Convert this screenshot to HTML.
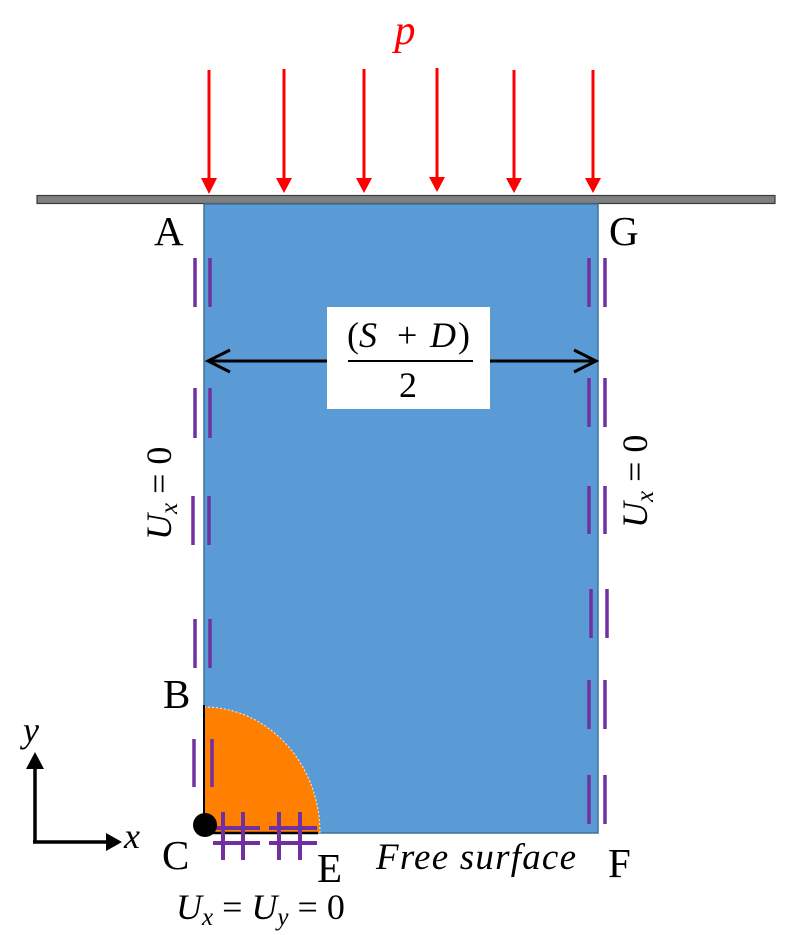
<!DOCTYPE html>
<html>
<head>
<meta charset="utf-8">
<style>
html,body{margin:0;padding:0;background:#fff;}
svg{display:block;}
text{font-family:"Liberation Serif",serif;}
</style>
</head>
<body>
<svg width="800" height="935" viewBox="0 0 800 935" xmlns="http://www.w3.org/2000/svg">
  <!-- p label -->
  <text x="405" y="44" font-size="42" font-style="italic" fill="#ff0000" text-anchor="middle">p</text>

  <!-- red arrows -->
  <g stroke="#ff0000" stroke-width="3">
    <line x1="209" y1="70" x2="209" y2="180"/>
    <line x1="284" y1="69" x2="284" y2="180"/>
    <line x1="364" y1="69" x2="364" y2="180"/>
    <line x1="437" y1="68" x2="437" y2="180"/>
    <line x1="514" y1="70" x2="514" y2="180"/>
    <line x1="593" y1="70" x2="593" y2="180"/>
  </g>
  <g fill="#ff0000">
    <polygon points="201,178 217,178 209,194"/>
    <polygon points="276,178 292,178 284,193"/>
    <polygon points="356,178 372,178 364,193"/>
    <polygon points="429,177 445,177 437,192"/>
    <polygon points="506,178 522,178 514,193"/>
    <polygon points="585,178 601,178 593,193"/>
  </g>

  <!-- top bar -->
  <rect x="37" y="195.5" width="738" height="8" fill="#808080" stroke="#3a3a3a" stroke-width="1.2"/>

  <!-- blue block -->
  <rect x="204" y="204" width="394" height="629" fill="#5b9bd5" stroke="#41719c" stroke-width="1.5"/>

  <!-- orange quarter -->
  <path d="M204,707 A116,126 0 0 1 320,833 L204,833 Z" fill="#ff8000"/>
  <path d="M204,707 A116,126 0 0 1 320,833" fill="none" stroke="#e8eef5" stroke-width="1" stroke-dasharray="2,2"/>

  <!-- black edges B-C and C-E -->
  <line x1="204" y1="705" x2="204" y2="830" stroke="#000" stroke-width="2"/>
  <line x1="204" y1="833" x2="318" y2="833" stroke="#000" stroke-width="2.5"/>

  <!-- labels -->
  <g font-size="41" fill="#000">
    <text x="154" y="245">A</text>
    <text x="609" y="245">G</text>
    <text x="163" y="708">B</text>
    <text x="162" y="869">C</text>
    <text x="317" y="882">E</text>
    <text x="608" y="877">F</text>
  </g>

  <!-- purple dashes left -->
  <g stroke="#7030a0" stroke-width="3.5" stroke-linecap="butt">
    <line x1="195" y1="258" x2="195" y2="307"/><line x1="210" y1="258" x2="210" y2="307"/>
    <line x1="195" y1="388" x2="195" y2="438"/><line x1="210" y1="388" x2="210" y2="438"/>
    <line x1="193" y1="496" x2="193" y2="545"/><line x1="209" y1="496" x2="209" y2="545"/>
    <line x1="195" y1="619" x2="195" y2="668"/><line x1="210" y1="619" x2="210" y2="668"/>
    <line x1="194" y1="739" x2="194" y2="787"/><line x1="212" y1="739" x2="212" y2="787"/>
  </g>
  <!-- purple dashes right -->
  <g stroke="#7030a0" stroke-width="3.5">
    <line x1="589" y1="258" x2="589" y2="307"/><line x1="605" y1="258" x2="605" y2="307"/>
    <line x1="589" y1="378" x2="589" y2="427"/><line x1="605" y1="378" x2="605" y2="427"/>
    <line x1="589" y1="486" x2="589" y2="534"/><line x1="605" y1="486" x2="605" y2="534"/>
    <line x1="591" y1="589" x2="591" y2="638"/><line x1="607" y1="589" x2="607" y2="638"/>
    <line x1="589" y1="680" x2="589" y2="729"/><line x1="605" y1="680" x2="605" y2="729"/>
    <line x1="589" y1="775" x2="589" y2="824"/><line x1="605" y1="775" x2="605" y2="824"/>
  </g>

  <!-- hash marks bottom -->
  <g stroke="#7030a0" stroke-width="4">
    <line x1="223" y1="812" x2="223" y2="860"/>
    <line x1="243" y1="812" x2="243" y2="860"/>
    <line x1="279" y1="812" x2="279" y2="860"/>
    <line x1="300" y1="812" x2="300" y2="860"/>
    <line x1="213" y1="828" x2="260" y2="828"/>
    <line x1="213" y1="843" x2="260" y2="843"/>
    <line x1="269" y1="828" x2="317" y2="828"/>
    <line x1="269" y1="843" x2="317" y2="843"/>
  </g>

  <!-- black dot C -->
  <circle cx="205" cy="825" r="12" fill="#000"/>

  <!-- dimension arrow -->
  <line x1="208" y1="361" x2="594" y2="361" stroke="#000" stroke-width="3"/>
  <polyline points="230,350 208,361 230,372" fill="none" stroke="#000" stroke-width="3"/>
  <polyline points="574,350 596,361 574,372" fill="none" stroke="#000" stroke-width="3"/>
  <rect x="327" y="307" width="163" height="102" fill="#fff"/>
  <g font-size="36" fill="#000">
    <text x="347" y="347">(</text>
    <text x="359" y="347" font-style="italic">S</text>
    <text x="397" y="347">+</text>
    <text x="430" y="347" font-style="italic">D</text>
    <text x="458" y="347">)</text>
    <text x="408" y="397" text-anchor="middle">2</text>
  </g>
  <line x1="348" y1="361" x2="473" y2="361" stroke="#000" stroke-width="2"/>

  <!-- rotated Ux = 0 labels -->
  <g font-size="36" fill="#000" transform="translate(171,540) rotate(-90)">
    <text x="0" y="0"><tspan font-style="italic">U</tspan><tspan font-style="italic" font-size="25" dy="6">x</tspan><tspan dy="-6"> = 0</tspan></text>
  </g>
  <g font-size="36" fill="#000" transform="translate(647,528) rotate(-90)">
    <text x="0" y="0"><tspan font-style="italic">U</tspan><tspan font-style="italic" font-size="25" dy="6">x</tspan><tspan dy="-6"> = 0</tspan></text>
  </g>

  <!-- bottom BC -->
  <text x="176" y="919" font-size="36" fill="#000"><tspan font-style="italic">U</tspan><tspan font-style="italic" font-size="25" dy="6">x</tspan><tspan dy="-6"> = </tspan><tspan font-style="italic">U</tspan><tspan font-style="italic" font-size="25" dy="6">y</tspan><tspan dy="-6"> = 0</tspan></text>

  <!-- Free surface -->
  <text x="376" y="869" font-size="37" font-style="italic" fill="#000" textLength="200">Free surface</text>

  <!-- axes -->
  <line x1="35" y1="842" x2="35" y2="766" stroke="#000" stroke-width="3.5"/>
  <polygon points="26,769 44,769 35,752" fill="#000"/>
  <line x1="33" y1="842" x2="108" y2="842" stroke="#000" stroke-width="3.5"/>
  <polygon points="106,833 106,851 122,842" fill="#000"/>
  <text x="23" y="742" font-size="36" font-style="italic" fill="#000">y</text>
  <text x="124" y="848" font-size="36" font-style="italic" fill="#000">x</text>
</svg>
</body>
</html>
